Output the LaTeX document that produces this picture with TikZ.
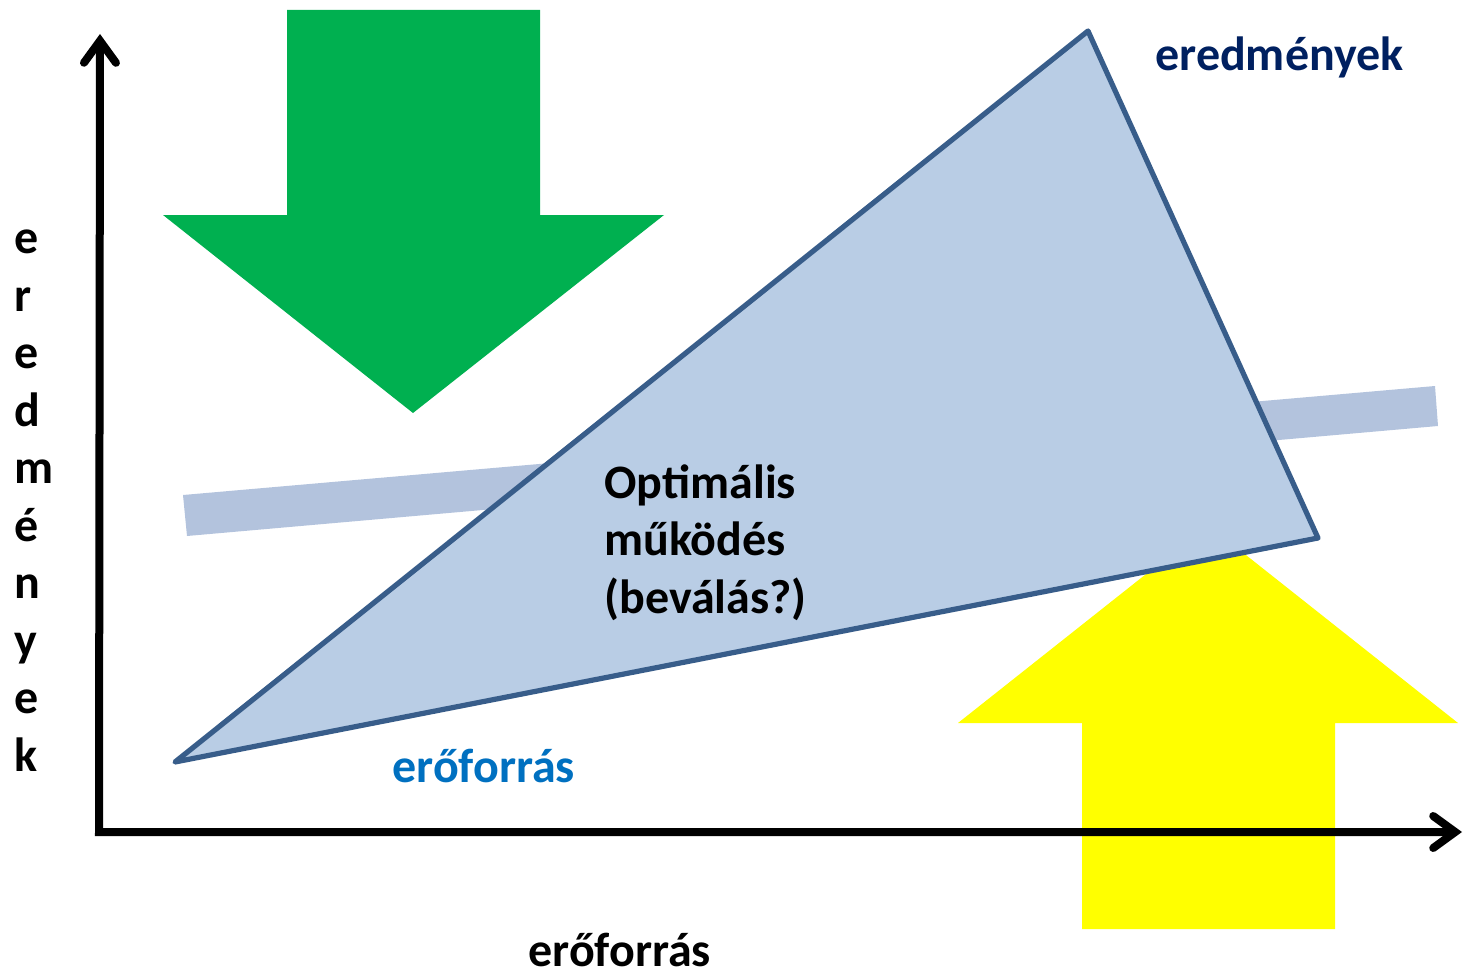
\documentclass[tikz,border=0pt]{standalone}
\usepackage{fontspec}
\setmainfont{Carlito}
\usetikzlibrary{arrows.meta}
\definecolor{arrowgreen}{HTML}{00B050}
\definecolor{arrowyellow}{HTML}{FFFF00}
\definecolor{trifill}{HTML}{B9CDE5}
\definecolor{tridraw}{HTML}{385D8A}
\definecolor{bandblue}{HTML}{B3C3DD}
\definecolor{darkblue}{HTML}{002060}
\definecolor{midblue}{HTML}{0070C0}

\begin{document}
\begin{tikzpicture}[x=0.5pt, y=-0.5pt,
    txt/.style={font=\fontsize{24}{28.75}\selectfont\bfseries, inner sep=0},
    axisline/.style={line width=4pt, line join=miter,
        {Straight Barb[length=11pt,width=16pt,line cap=round]}-{Straight Barb[length=11pt,width=16pt,line cap=round]}}]
    \useasboundingbox (0,0) rectangle (1467,974);

    % band behind the triangle
    \fill[bandblue] (183,495) -- (1435,386) -- (1438,426) -- (187,536) -- cycle;

    % green arrow (down) and yellow arrow (up)
    \fill[arrowgreen] (287,10) -- (540,10) -- (540,215) -- (664,215) -- (413,413)
        -- (163,215) -- (287,215) -- cycle;
    \fill[arrowyellow] (1082,929) -- (1335,929) -- (1335,723) -- (1458,723) -- (1208,525)
        -- (958,723) -- (1082,723) -- cycle;

    % triangle
    \coordinate (tl) at (175,762);
    \coordinate (tt) at (1088,31);
    \coordinate (tr) at (1318,538);
    \filldraw[fill=trifill, draw=tridraw, line width=2.6pt, line join=round] (tl) -- (tt) -- (tr) -- cycle;

    % axes
    \coordinate (origin) at (99,832);
    \coordinate (ytip) at (100,34);
    \coordinate (xtip) at (1462,832);
    \draw[axisline] (ytip) -- (origin) -- (xtip);

    \node[txt, align=left, anchor=base west] (opt) at (604,613) {Optimális\\működés\\(beválás?)};
    \node[txt, text=darkblue, anchor=base west] (res) at (1155,71) {eredmények};
    \node[txt, text=midblue, anchor=base west] (src) at (392,782) {erőforrás};
    \node[txt, anchor=base west] (xlab) at (528,966) {erőforrás};
    \node[txt, align=left, anchor=base west] (ylab) at (14,771) {e\\r\\e\\d\\m\\é\\n\\y\\e\\k};
\end{tikzpicture}
\end{document}
